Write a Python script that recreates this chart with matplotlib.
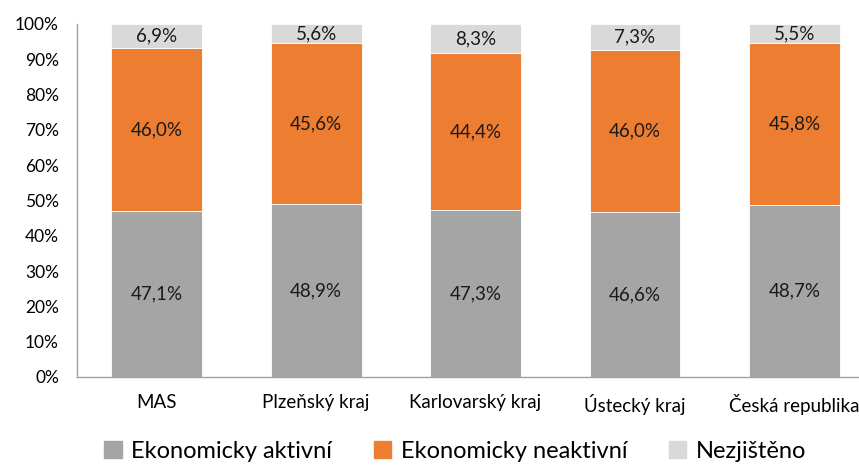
import numpy as np
from matplotlib import pyplot as plt
from matplotlib.patches import Patch

categories = ['MAS', 'Plzeňský kraj', 'Karlovarský kraj', 'Ústecký kraj', 'Česká republika']
aktivni = [47.1, 48.9, 47.3, 46.6, 48.7]
neaktivni = [46.0, 45.6, 44.4, 46.0, 45.8]
nezjisteno = [6.9, 5.6, 8.3, 7.3, 5.5]
series_names = ['Ekonomicky aktivní', 'Ekonomicky neaktivní', 'Nezjištěno']
colors = ['#A5A5A5', '#ED7D31', '#D9D9D9']

plt.rcParams['font.family'] = ['Lato', 'DejaVu Sans']

fig = plt.figure(figsize=(8.59, 4.66), dpi=100)
ax = fig.add_axes([0.0896, 0.191, 0.928, 0.7575])

x = np.arange(len(categories))
bottom = np.zeros(len(categories))
for vals, col in zip([aktivni, neaktivni, nezjisteno], colors):
    vals = np.array(vals)
    ax.bar(x, vals, width=0.57, bottom=bottom, color=col, edgecolor='white', linewidth=0.6)
    for xi, b, v in zip(x, bottom, vals):
        ax.text(xi, b + v / 2, f'{v:.1f}%'.replace('.', ','), ha='center', va='center',
                fontsize=13.5, color='#1a1a1a')
    bottom += vals

ax.set_xlim(-0.5, 4.5)
ax.set_ylim(0, 100)
ax.set_yticks(range(0, 101, 10))
ax.set_yticklabels([f'{t}%' for t in range(0, 101, 10)], fontsize=12.5)
ax.set_xticks(x)
ax.set_xticklabels(categories, fontsize=13.5)
ax.tick_params(axis='y', length=0, pad=13)
ax.tick_params(axis='x', length=0, pad=12)
for s in ['top', 'right']:
    ax.spines[s].set_visible(False)
for s in ['left', 'bottom']:
    ax.spines[s].set_color('#a0a0a0')
    ax.spines[s].set_linewidth(1)

handles = [Patch(color=c) for c in colors]
fig.legend(handles, series_names, loc='center', bbox_to_anchor=(0.53, 0.032), ncol=3,
           frameon=False, fontsize=17, handlelength=0.75, handleheight=0.75,
           handletextpad=0.4, columnspacing=1.75, borderpad=0.1)

fig.savefig('out.png', dpi=100)
